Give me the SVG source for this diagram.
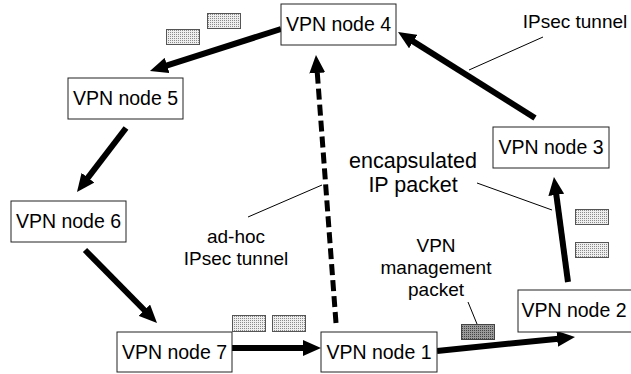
<svg xmlns="http://www.w3.org/2000/svg" width="631" height="374" viewBox="0 0 631 374">
<defs>
<style>
.node rect{fill:#fff;stroke:#222;stroke-width:1}
.node text{font-family:"Liberation Sans",Arial,sans-serif;font-size:19.5px;fill:#000;text-anchor:middle}
.lbl{font-family:"Liberation Sans",Arial,sans-serif;font-size:19px;fill:#000;text-anchor:middle}
.conn{stroke:#000;stroke-width:6;fill:none;marker-end:url(#ah)}
.dash{stroke:#000;stroke-width:5;fill:none;stroke-dasharray:11 5;marker-end:url(#ah)}
.lead{stroke:#000;stroke-width:1;fill:none}
.pk{fill:url(#dots);stroke:#555;stroke-width:1}
.pkd{fill:url(#dotsd);stroke:#444;stroke-width:1}
</style>
<pattern id="dots" width="2" height="2" patternUnits="userSpaceOnUse">
<rect width="2" height="2" fill="#eeeeee"/>
<rect width="1" height="1" fill="#8a8a8a"/>
</pattern>
<pattern id="dotsd" width="2" height="2" patternUnits="userSpaceOnUse">
<rect width="2" height="2" fill="#9a9a9a"/>
<rect width="1" height="1" fill="#444"/>
</pattern>
<marker id="ah" markerUnits="userSpaceOnUse" markerWidth="18" markerHeight="16" refX="4" refY="8" orient="auto" viewBox="0 0 18 16">
<path d="M0,0 L18,8 L0,16 z" fill="#000"/>
</marker>
</defs>
<g id="connectors">
<line class="conn" x1="281" y1="29" x2="163.3" y2="66.7"/>
<line class="conn" x1="126" y1="128" x2="85.5" y2="180.9"/>
<line class="conn" x1="85" y1="250" x2="147.2" y2="313"/>
<line class="conn" x1="232" y1="348" x2="307" y2="348"/>
<line class="conn" x1="437" y1="351" x2="561.1" y2="338.4"/>
<line class="conn" x1="568" y1="282" x2="555.8" y2="190.9"/>
<line class="conn" x1="535" y1="118" x2="409.9" y2="39.4"/>
<line class="dash" x1="336" y1="323" x2="317" y2="69"/>
</g>
<g id="leaders">
<line class="lead" x1="543" y1="37" x2="469" y2="70"/>
<line class="lead" x1="248" y1="217" x2="322" y2="185"/>
<line class="lead" x1="477" y1="183" x2="552" y2="210"/>
<line class="lead" x1="468" y1="302" x2="477" y2="324"/>
</g>
<g id="node4" class="node"><rect x="281" y="4" width="115" height="41"/><text x="338.5" y="31">VPN node 4</text></g>
<g id="node5" class="node"><rect x="68" y="78" width="115" height="41"/><text x="125.5" y="105">VPN node 5</text></g>
<g id="node6" class="node"><rect x="11" y="201" width="115" height="41"/><text x="68.5" y="228">VPN node 6</text></g>
<g id="node7" class="node"><rect x="117" y="332" width="115" height="40"/><text x="174.5" y="359">VPN node 7</text></g>
<g id="node1" class="node"><rect x="321" y="332" width="116" height="40"/><text x="379" y="359">VPN node 1</text></g>
<g id="node2" class="node"><rect x="518" y="290" width="116" height="42"/><text x="574" y="317">VPN node 2</text></g>
<g id="node3" class="node"><rect x="493" y="127" width="116" height="41"/><text x="551" y="154">VPN node 3</text></g>
<g id="packets">
<rect class="pk" x="207.5" y="13.5" width="33" height="15"/>
<rect class="pk" x="166.5" y="29.5" width="33" height="15"/>
<rect class="pk" x="232.5" y="315.5" width="33" height="16"/>
<rect class="pk" x="272.5" y="315.5" width="33" height="16"/>
<rect class="pk" x="575.5" y="209.5" width="33" height="15"/>
<rect class="pk" x="575.5" y="242.5" width="33" height="15"/>
<rect class="pkd" x="461.5" y="324.5" width="33" height="15"/>
</g>
<g id="labels">
<text class="lbl" x="575" y="28">IPsec tunnel</text>
<text class="lbl" x="413" y="168" style="font-size:21.5px">encapsulated</text>
<text class="lbl" x="413" y="192" style="font-size:21.5px">IP packet</text>
<text class="lbl" x="236" y="243">ad-hoc</text>
<text class="lbl" x="236" y="265">IPsec tunnel</text>
<text class="lbl" x="436" y="252">VPN</text>
<text class="lbl" x="436" y="274">management</text>
<text class="lbl" x="436" y="296">packet</text>
</g>
</svg>
